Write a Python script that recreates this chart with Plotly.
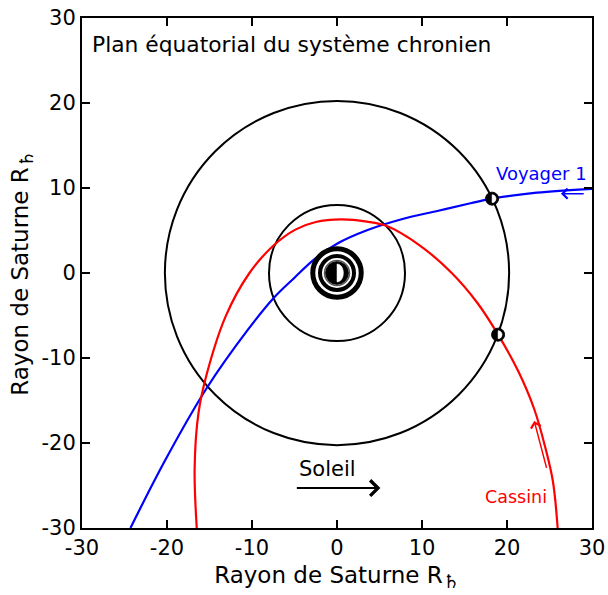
import plotly.graph_objects as go

# ---------------- data ----------------
tick_vals = [-30, -20, -10, 0, 10, 20, 30]
tick_text = ["-30", "-20", "-10", "0", "10", "20", "30"]

voyager_x = [-24.3, -20.2, -15.3, -10.5, -7.45, -5.0, -2.75, 0.0, 3.6, 7.5, 11.8, 15.7, 18.24, 23.5, 30.0]
voyager_y = [-30.0, -22.0, -13.5, -6.7, -2.94, -0.55, 1.55, 3.45, 5.06, 6.3, 7.3, 8.2, 8.75, 9.45, 9.9]

cassini_x = [-16.5, -16.75, -16.3, -15.3, -13.1, -10.3, -7.5, -4.9, -2.5, 0.5, 3.5, 5.8, 9.8, 13.5, 16.5, 18.95, 21.3, 23.2, 24.5, 25.4, 25.96]
cassini_y = [-30.0, -23.0, -16.5, -11.8, -5.1, 0.0, 3.2, 5.1, 6.0, 6.3, 6.05, 5.55, 3.2, 0.0, -3.5, -7.25, -11.5, -16.0, -20.5, -24.5, -30.0]

orbit_radii = [20.25, 8.0]                 # Titan, inner moon orbit
ring_radii = [2.85, 2.0, 1.47]             # ring system
ring_widths = [5, 4, 1.5]
ring_colors = ["black", "black", "#555555"]
saturn_radius = 1.33
lit_rx, lit_ry = 0.75, 1.05                # lit half of Saturn

titan_x = [18.24, 18.95]                   # Titan at Voyager / Cassini encounters
titan_y = [8.75, -7.25]

title_text = "Plan équatorial du système chronien"
axis_title = "Rayon de Saturne R<sub><span style='font-size:19px'>♄</span></sub>"

labels = [
    dict(text="Voyager 1", x=24.0, y=11.7, color="blue", size=18),
    dict(text="Cassini", x=21.1, y=-26.3, color="red", size=17.5),
    dict(text="Soleil", x=-1.1, y=-23.1, color="black", size=21),
]
arrows = [  # tip (x, y), tail (ax, ay)
    dict(x=5.1, y=-25.3, ax=-4.9, ay=-25.3, color="black", width=2, size=1.5),
    dict(x=26.35, y=9.33, ax=29.2, ay=9.33, color="blue", width=1.5, size=1.3),
    dict(x=23.2, y=-17.4, ax=24.7, ay=-23.1, color="red", width=1.5, size=1.3),
]

FONT = "DejaVu Sans"

fig = go.Figure()

fig.add_trace(go.Scatter(x=voyager_x, y=voyager_y, mode="lines",
                         line=dict(color="blue", width=2.2, shape="spline", smoothing=1.0),
                         hoverinfo="skip", showlegend=False))
fig.add_trace(go.Scatter(x=cassini_x, y=cassini_y, mode="lines",
                         line=dict(color="red", width=2.2, shape="spline", smoothing=1.0),
                         hoverinfo="skip", showlegend=False))

shapes = []
for r in orbit_radii:
    shapes.append(dict(type="circle", xref="x", yref="y", x0=-r, x1=r, y0=-r, y1=r,
                       line=dict(color="black", width=2), layer="below"))
for r, w, c in zip(ring_radii, ring_widths, ring_colors):
    shapes.append(dict(type="circle", xref="x", yref="y", x0=-r, x1=r, y0=-r, y1=r,
                       line=dict(color=c, width=w), layer="above"))
shapes.append(dict(type="circle", xref="x", yref="y", x0=-saturn_radius, x1=saturn_radius,
                   y0=-saturn_radius, y1=saturn_radius, fillcolor="black",
                   line=dict(color="black", width=1), layer="above"))
k = 4.0 / 3.0
shapes.append(dict(type="path", xref="x", yref="y",
                   path=f"M 0,{-lit_ry} C {k*lit_rx},{-lit_ry} {k*lit_rx},{lit_ry} 0,{lit_ry} Z",
                   fillcolor="white", line=dict(color="white", width=0.5), layer="above"))

for tx, ty in zip(titan_x, titan_y):
    shapes.append(dict(type="circle", xref="x", yref="y", xsizemode="pixel", ysizemode="pixel",
                       xanchor=tx, yanchor=ty, x0=-6.5, x1=6.5, y0=-6.5, y1=6.5,
                       fillcolor="black", line=dict(color="black", width=1), layer="above"))
    shapes.append(dict(type="path", xref="x", yref="y", xsizemode="pixel", ysizemode="pixel",
                       xanchor=tx, yanchor=ty,
                       path="M 0,-4 C 5.3,-4 5.3,4 0,4 Z",
                       fillcolor="white", line=dict(color="white", width=0.5), layer="above"))

annotations = [dict(text=title_text, xref="paper", yref="paper", x=0.0, y=1.0,
                    xanchor="left", yanchor="top", xshift=8, yshift=-12, showarrow=False,
                    font=dict(family=FONT, size=21.8, color="black"))]
for lb in labels:
    annotations.append(dict(text=lb["text"], x=lb["x"], y=lb["y"], xref="x", yref="y",
                            showarrow=False, font=dict(family=FONT, size=lb["size"], color=lb["color"])))
for a in arrows:
    annotations.append(dict(text="", x=a["x"], y=a["y"], ax=a["ax"], ay=a["ay"],
                            xref="x", yref="y", axref="x", ayref="y",
                            showarrow=True, arrowhead=4, arrowsize=a["size"],
                            arrowwidth=a["width"], arrowcolor=a["color"], standoff=0))

axis_common = dict(range=[-30, 30], tickvals=tick_vals, ticktext=tick_text,
                   ticks="inside", ticklen=8, tickwidth=2, tickcolor="black",
                   showline=True, linewidth=2, linecolor="black", mirror="ticks",
                   showgrid=False, zeroline=False, automargin=False,
                   tickfont=dict(family=FONT, size=21, color="black"))

fig.update_layout(
    template="none",
    width=608, height=595,
    margin=dict(l=82, r=16, t=18, b=67, pad=0),
    paper_bgcolor="white", plot_bgcolor="white",
    font=dict(family=FONT, color="black"),
    shapes=shapes, annotations=annotations,
    xaxis=dict(**axis_common, title=dict(text=axis_title, font=dict(family=FONT, size=23), standoff=8)),
    yaxis=dict(**axis_common, title=dict(text=axis_title, font=dict(family=FONT, size=23), standoff=6)),
)

fig.write_html("out.html", config={"displayModeBar": False},
               post_script="document.body.style.margin='0px';document.body.style.padding='0px';")
